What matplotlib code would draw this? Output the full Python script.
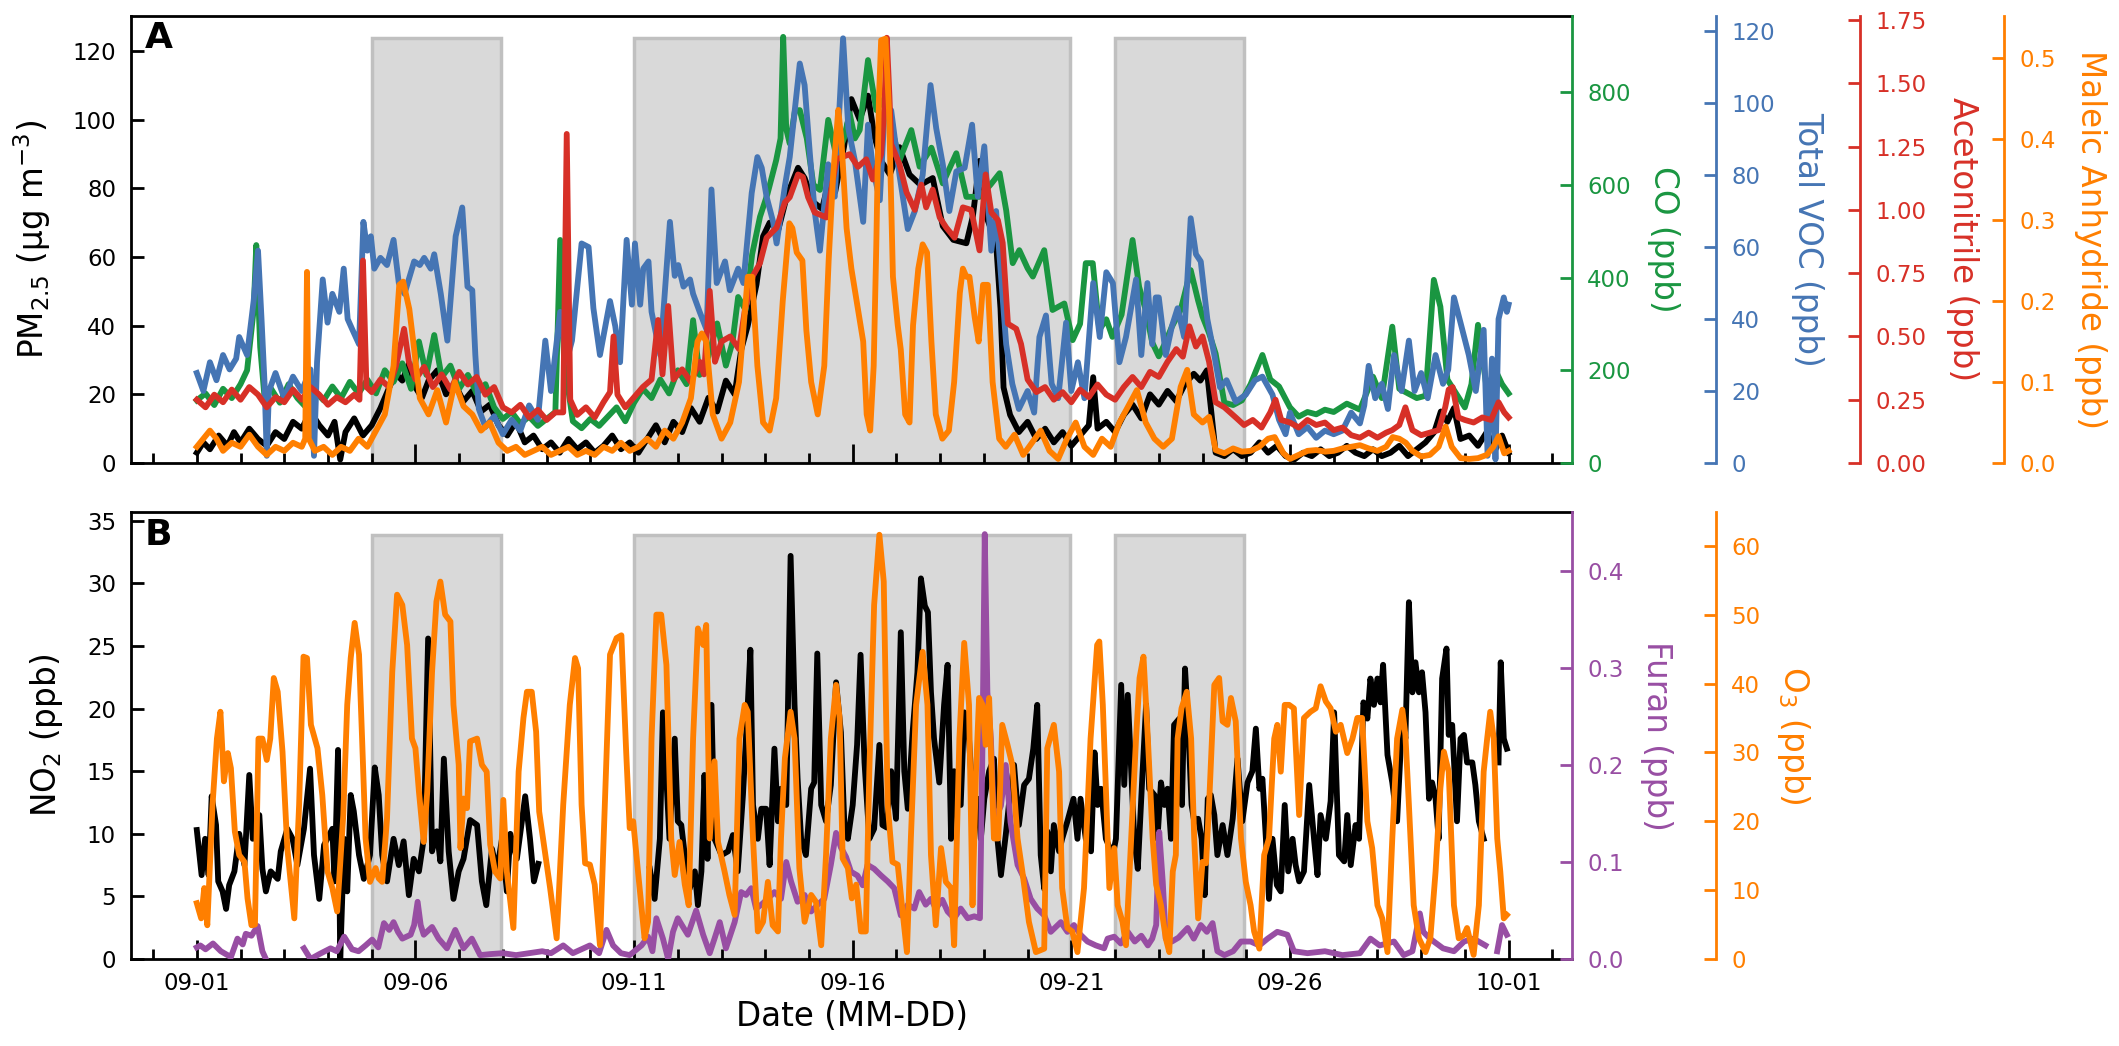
import numpy as np
import pandas as pd
import matplotlib
matplotlib.use("Agg")
import matplotlib.pyplot as plt
import matplotlib.dates as mdates
from matplotlib.ticker import MultipleLocator, FormatStrFormatter

nan = np.nan
# ---------------- data (time in days since 09-01 00:00) ----------------
pm_t = [0, 0.15, 0.3, 0.5, 0.7, 0.85, 1.0, 1.2, 1.4, 1.6, 1.8, 2.0, 2.2, 2.4, 2.6, 2.8, 3.0, 3.15, 3.28, 3.4, 3.6, 3.8, 4.0,
        4.2, 4.4, 4.55, 4.7, 4.85, 5.0, 5.15, 5.3, 5.5, 5.7, 5.9, 6.1, 6.3, 6.5, 6.7, 6.9, 7.1, 7.3, 7.5, 7.7, 7.9, 8.1,
        8.3, 8.5, 8.7, 8.9, 9.1, 9.3, 9.5, 9.7, 9.9, 10.1, 10.3, 10.5, 10.7, 10.9, 11.1, 11.3, 11.5, 11.7, 11.9, 12.1,
        12.3, 12.45, 12.6, 12.8, 12.95, 13.1, 13.3, 13.5, 13.75, 13.9, 14.1, 14.3, 14.45, 14.6, 14.8, 14.97, 15.16,
        15.35, 15.5, 15.65, 15.85, 16.07, 16.3, 16.55, 16.83, 17.06, 17.3, 17.6, 17.75, 17.9, 18.05, 18.28, 18.38,
        18.45, 18.6, 18.8, 19.0, 19.2, 19.4, 19.6, 19.8, 20.0, 20.2, 20.4, 20.5, 20.6, 20.8, 21.0, 21.2, 21.4, 21.6,
        21.8, 22.0, 22.2, 22.4, 22.6, 22.8, 22.95, 23.1, 23.2, 23.3, 23.5, 23.7, 23.9, 24.1, 24.3, 24.5, 24.7, 24.9,
        25.1, 25.3, 25.5, 25.7, 25.9, 26.1, 26.3, 26.5, 26.7, 26.9, 27.1, 27.3, 27.5, 27.7, 27.9, 28.1, 28.3, 28.45,
        28.6, 28.75, 28.9, 29.1, 29.3, 29.5, 29.7, 29.85, 30.0]
pm_v = [3, 6, 4, 8, 5, 9, 6, 10, 7, 5, 9, 7, 12, 10, 15, 11, 8, 12, 1, 9, 13, 8, 11,
        16, 22, 26, 24, 29, 22, 19, 24, 27, 20, 23, 18, 21, 15, 17, 11, 8, 12, 6, 8, 4, 6,
        3, 7, 4, 6, 3, 5, 8, 4, 6, 3, 7, 11, 6, 12, 9, 16, 12, 19, 15, 24,
        20, 33, 40, 52, 66, 70, 68, 78, 86, 83, 76, 74, 82, 79, 92, 106, 100,
        107, 95, 88, 84, 92, 84, 81, 83, 69, 65, 64, 72, 88, 72, 64, 45,
        22, 14, 9, 12, 7, 10, 6, 9, 5, 8, 11, 25, 10, 12, 9, 14, 17, 13,
        20, 17, 21, 18, 23, 26, 24, 27, 15, 3, 2, 4, 2, 3, 6, 3, 5, 2,
        1, 3, 2, 4, 2, 3, 5, 3, 2, 4, 2, 3, 5, 2, 4, 6, 9, 15,
        12, 16, 7, 8, 5, 9, 4, 8, 3]

co_t = [0, 0.2, 0.4, 0.6, 0.8, 1.0, 1.15, 1.3, 1.36, 1.45, 1.55, 1.7, 1.9, 2.1, 2.3, 2.5, 2.7, 2.9, 3.1, 3.3, 3.5, 3.7,
        3.9, 4.1, 4.3, 4.5, 4.7, 4.9, 5.08, 5.25, 5.43, 5.6, 5.8, 6.0, 6.2, 6.4, 6.6, 6.8, 7.0, 7.2, 7.4, 7.6, 7.8, 8.0,
        8.2, 8.31, 8.4, 8.6, 8.8, 9.0, 9.2, 9.4, 9.6, 9.8, 10.0, 10.2, 10.4, 10.6, 10.8, 11.0, 11.2, 11.35, 11.5, 11.7,
        11.9, 12.1, 12.25, 12.38, 12.55, 12.7, 12.88, 13.05, 13.25, 13.35, 13.41, 13.48, 13.56, 13.68, 13.79, 13.95,
        14.1, 14.25, 14.44, 14.63, 14.8, 14.93, 15.05, 15.16, 15.35, 15.54, 15.75, 15.9, 16.07, 16.34, 16.53, 16.8,
        17.06, 17.37, 17.6, 17.9, 18.15, 18.36, 18.51, 18.66, 18.81, 19.0, 19.12, 19.38, 19.57, 19.84, 20.03, 20.2,
        20.33, 20.49, 20.64, 20.8, 20.94, 21.15, 21.4, 21.55, 21.7, 21.85, 22.0, 22.15, 22.3, 22.5, 22.73, 22.9, 23.0,
        23.15, 23.3, 23.5, 23.7, 23.9, 24.1, 24.37, 24.55, 24.75, 25.0, 25.2, 25.4, 25.6, 25.8, 26.0, 26.3, 26.6, 26.9,
        27.1, 27.34, 27.5, 27.7, 27.9, 28.1, 28.29, 28.44, 28.6, 28.8, 29.0, 29.15, 29.3, 29.5, 29.7, 29.85, 30.0]
co_v = [135, 150, 125, 160, 140, 170, 200, 330, 470, 250, 140, 160, 130, 170, 140, 120, 155, 135, 165, 140, 175, 150,
        180, 150, 200, 175, 215, 160, 262, 190, 276, 185, 210, 160, 190, 150, 170, 120, 95, 110, 85, 100, 80, 95,
        110, 481, 220, 90, 75, 95, 80, 100, 120, 90, 130, 160, 140, 180, 150, 200, 170, 308, 190, 230,
        301, 210, 260, 358, 330, 450, 531, 580, 653, 700, 919, 720, 689, 760, 761, 700,
        600, 589, 740, 660, 700, 754, 700, 718, 869, 761, 790, 720, 653, 718, 639, 680,
        603, 668, 574, 574, 600, 625, 545, 431, 459, 420, 402, 459, 330, 344, 265, 300,
        431, 431, 287, 310, 272, 320, 481, 380, 330, 260, 230, 260, 294, 330, 416, 350, 316,
        280, 236, 130, 125, 135, 170, 233, 180, 165, 120, 100, 110, 105, 115, 110, 128, 115, 186,
        140, 294, 160, 150, 140, 145, 395, 337, 180, 150, 120, 170, 298, 160, 200, 170, 150]

voc_t = [0, 0.15, 0.3, 0.45, 0.6, 0.75, 0.9, 0.97, 1.15, 1.3, 1.4, 1.48, 1.55, 1.6, 1.65, 1.8, 2.0, 2.2, 2.4, 2.6, 2.68,
         2.75, 2.88, 2.99, 3.1, 3.26, 3.36, 3.45, 3.56, 3.71, 3.81, 3.9, 3.98, 4.06, 4.2, 4.35, 4.5, 4.62, 4.75, 4.97,
         5.1, 5.2, 5.35, 5.43, 5.58, 5.73, 5.92, 6.07, 6.19, 6.3, 6.37, 6.45, 6.6, 6.8, 7.0, 7.2, 7.4, 7.6, 7.8, 7.97,
         8.1, 8.31, 8.45, 8.58, 8.8, 8.96, 9.07, 9.22, 9.45, 9.57, 9.68, 9.83, 9.95, 10.02, 10.14, 10.21, 10.33, 10.4,
         10.6, 10.82, 10.93, 11.01, 11.13, 11.28, 11.35, 11.5, 11.66, 11.77, 11.89, 12.08, 12.19, 12.38, 12.5, 12.69,
         12.82, 12.92, 13.03, 13.18, 13.26, 13.45, 13.56, 13.79, 13.9, 14.02, 14.13, 14.25, 14.44, 14.59, 14.78, 14.9,
         15.05, 15.24, 15.35, 15.46, 15.62, 15.73, 15.88, 16.07, 16.26, 16.42, 16.6, 16.78, 16.91, 17.06, 17.21, 17.37,
         17.56, 17.73, 17.86, 18.01, 18.17, 18.28, 18.36, 18.51, 18.65, 18.8, 19.0, 19.15, 19.27, 19.42, 19.55, 19.7,
         19.88, 20.0, 20.15, 20.3, 20.5, 20.65, 20.8, 20.95, 21.1, 21.25, 21.48, 21.6, 21.74, 21.85, 21.93, 22.0,
         22.16, 22.3, 22.43, 22.58, 22.73, 22.85, 22.96, 23.11, 23.27, 23.4, 23.55, 23.76, 23.99, 24.2, 24.37, 24.6,
         24.75, 24.9, 25.0, 25.2, 25.4, 25.6, 25.8, 26.0, 26.2, 26.4, 26.6, 26.7, 26.8, 26.95, 27.1, 27.24, 27.38,
         27.55, 27.72, 27.85, 28.0, 28.15, 28.33, 28.5, 28.62, 28.75, 28.9, 29.09, 29.25, 29.43, 29.52, 29.62, 29.7,
         29.77, 29.89, 29.96, 30.0]
voc_v = [25, 20, 28, 23, 30, 26, 29, 35, 30, 45, 59, 40, 22, 2, 20, 25, 18, 24, 20, 26, 2,
         28, 51, 39, 47, 42, 54, 40, 37, 33, 67, 59, 63, 54, 57, 55, 62, 50, 47, 56,
         55, 57, 54, 58, 47, 34, 63, 71, 49, 48, 30, 15, 10, 13, 8, 12, 9, 16, 12, 34,
         20, 42, 28, 34, 61, 60, 43, 30, 45, 38, 28, 62, 44, 61, 44, 54, 56, 42,
         30, 67, 52, 55, 49, 51, 47, 42, 37, 76, 50, 56, 48, 54, 50, 75,
         85, 82, 74, 67, 61, 77, 85, 111, 105, 86, 70, 59, 83, 74, 118, 93,
         84, 67, 94, 82, 73, 98, 98, 80, 65, 70, 80, 105, 93, 83, 70, 81,
         82, 94, 74, 88, 59, 70, 57, 33, 22, 15, 20, 14, 35, 41, 22, 18,
         39, 20, 28, 18, 50, 35, 53, 50, 28, 35, 51, 30, 50, 33, 46, 46,
         30, 38, 43, 35, 68, 58, 56, 40, 30, 21, 23, 17, 19, 23, 24, 19,
         12, 8, 14, 8, 10, 7, 9, 8, 9, 14, 11, 16, 27, 18, 22, 15, 30,
         20, 34, 20, 25, 18, 30, 22, 26, 46, 39, 30, 20, 37, 2, 29, 1,
         40, 46, 42, 44]

acn_t = [0, 0.2, 0.4, 0.6, 0.8, 1.0, 1.2, 1.4, 1.6, 1.8, 2.0, 2.2, 2.4, 2.6, 2.8, 3.0, 3.2, 3.4, 3.6, 3.72, 3.8, 3.88,
         4.0, 4.2, 4.4, 4.55, 4.74, 4.85, 5.0, 5.2, 5.4, 5.6, 5.8, 6.0, 6.2, 6.4, 6.6, 6.8, 7.0, 7.2, 7.4, 7.6, 7.8,
         8.0, 8.2, 8.38, 8.46, 8.54, 8.7, 8.9, 9.1, 9.3, 9.45, 9.53, 9.62, 9.8, 10.0, 10.2, 10.4, 10.55, 10.65, 10.78,
         10.9, 11.1, 11.3, 11.5, 11.6, 11.73, 11.85, 12.0, 12.2, 12.4, 12.53, 12.72, 12.88, 13.03, 13.26, 13.45, 13.56,
         13.75, 13.86, 13.98, 14.13, 14.4, 14.63, 14.93, 15.12, 15.31, 15.46, 15.65, 15.72, 15.78, 15.84, 15.88,
         16.07, 16.23, 16.42, 16.57, 16.68, 16.83, 16.99, 17.14, 17.33, 17.52, 17.71, 17.9, 18.04, 18.17, 18.32,
         18.43, 18.55, 18.74, 18.85, 19.0, 19.2, 19.4, 19.6, 19.8, 20.0, 20.2, 20.4, 20.6, 20.8, 21.0, 21.2, 21.4,
         21.6, 21.8, 22.0, 22.2, 22.4, 22.55, 22.7, 22.85, 23.0, 23.15, 23.3, 23.5, 23.76, 23.95, 24.15, 24.35,
         24.55, 24.67, 24.8, 25.0, 25.2, 25.4, 25.6, 25.8, 26.0, 26.2, 26.4, 26.6, 26.8, 27.0, 27.2, 27.34, 27.5,
         27.64, 27.8, 28.0, 28.2, 28.4, 28.55, 28.63, 28.72, 28.85, 29.0, 29.2, 29.4, 29.6, 29.77, 29.9, 30.0]
acn_v = [0.25, 0.22, 0.27, 0.24, 0.29, 0.25, 0.30, 0.27, 0.22, 0.26, 0.24, 0.29, 0.25, 0.30, 0.27, 0.23, 0.26, 0.24,
         0.27, 0.25, 0.80, 0.30, 0.28, 0.33, 0.30, 0.38, 0.53, 0.40, 0.33, 0.38, 0.30, 0.35, 0.29, 0.36, 0.31, 0.34,
         0.27, 0.30, 0.22, 0.20, 0.23, 0.18, 0.21, 0.17, 0.20, 0.20, 1.30, 0.25, 0.19, 0.22, 0.18, 0.24, 0.28, 0.50,
         0.27, 0.22, 0.26, 0.30, 0.33, 0.565, 0.35, 0.62, 0.33, 0.37, 0.32, 0.40, 0.35, 0.68, 0.40, 0.48, 0.50, 0.45,
         0.60, 0.74, 0.79, 0.89, 0.93, 1.03, 1.05, 1.14, 1.13, 1.05, 0.99, 0.97, 1.20, 1.22, 1.17, 1.20, 1.12, 1.22,
         1.40, 1.68, 1.45, 1.26, 1.18, 1.07, 1.00, 1.10, 1.01, 1.08, 0.97, 0.93, 0.89, 1.01, 1.00, 0.84, 1.14, 0.99,
         0.96, 0.87, 0.55, 0.53, 0.47, 0.33, 0.28, 0.30, 0.25, 0.28, 0.24, 0.29, 0.26, 0.31, 0.27, 0.25, 0.30, 0.34,
         0.30, 0.36, 0.34, 0.40, 0.45, 0.42, 0.54, 0.46, 0.50, 0.40, 0.24, 0.22, 0.18, 0.15, 0.17, 0.14,
         0.20, 0.25, 0.17, 0.16, 0.14, 0.17, 0.15, 0.16, 0.13, 0.14, 0.11, 0.10, 0.12, 0.10, 0.12, 0.13, 0.15,
         0.22, 0.13, 0.11, 0.12, 0.13, 0.22, 0.29, 0.30, 0.18, 0.17, 0.16, 0.18, 0.17, 0.24, 0.20, 0.18]

ma_t = [0, 0.15, 0.3, 0.45, 0.6, 0.8, 1.0, 1.2, 1.4, 1.6, 1.8, 2.0, 2.2, 2.4, 2.48, 2.52, 2.56, 2.7, 2.9, 3.1, 3.3, 3.5,
        3.7, 3.9, 4.1, 4.3, 4.5, 4.63, 4.72, 4.86, 4.95, 5.1, 5.3, 5.5, 5.7, 5.9, 6.1, 6.3, 6.5, 6.7, 6.9, 7.1, 7.3,
        7.5, 7.7, 7.9, 8.1, 8.3, 8.5, 8.7, 8.9, 9.1, 9.3, 9.5, 9.7, 9.9, 10.1, 10.3, 10.5, 10.7, 10.9, 11.1, 11.3,
        11.45, 11.55, 11.65, 11.8, 12.0, 12.2, 12.4, 12.6, 12.7, 12.82, 12.95, 13.1, 13.25, 13.4, 13.55, 13.62,
        13.72, 13.85, 13.94, 14.05, 14.2, 14.35, 14.45, 14.55, 14.67, 14.74, 14.86, 14.97, 15.12, 15.24, 15.32,
        15.4, 15.48, 15.54, 15.6, 15.65, 15.75, 15.83, 15.92, 16.03, 16.1, 16.2, 16.3, 16.38, 16.5, 16.6, 16.7,
        16.8, 16.9, 17.05, 17.2, 17.32, 17.45, 17.52, 17.6, 17.67, 17.79, 17.88, 17.98, 18.09, 18.2, 18.35, 18.5,
        18.7, 18.9, 19.1, 19.3, 19.5, 19.7, 19.9, 20.1, 20.3, 20.5, 20.7, 20.9, 21.1, 21.3, 21.5, 21.7, 21.9, 22.1,
        22.3, 22.5, 22.65, 22.8, 23.0, 23.15, 23.3, 23.5, 23.7, 23.9, 24.1, 24.3, 24.5, 24.65, 24.85, 25.0, 25.2,
        25.4, 25.6, 25.8, 26.0, 26.2, 26.4, 26.6, 26.8, 27.0, 27.2, 27.35, 27.5, 27.65, 27.8, 28.0, 28.2, 28.4,
        28.56, 28.7, 28.9, 29.1, 29.3, 29.5, 29.65, 29.77, 29.9, 30.0]
ma_v = [0.02, 0.03, 0.04, 0.03, 0.015, 0.025, 0.02, 0.035, 0.02, 0.01, 0.02, 0.015, 0.025, 0.02, 0.03, 0.236, 0.03,
        0.015, 0.02, 0.01, 0.02, 0.015, 0.03, 0.02, 0.04, 0.06, 0.12, 0.22, 0.224, 0.19, 0.15, 0.08, 0.06, 0.09, 0.05,
        0.10, 0.07, 0.06, 0.04, 0.05, 0.025, 0.015, 0.02, 0.01, 0.015, 0.02, 0.01, 0.015, 0.02, 0.01, 0.015, 0.01,
        0.02, 0.015, 0.025, 0.015, 0.02, 0.03, 0.02, 0.04, 0.03, 0.05, 0.08, 0.15, 0.16, 0.15, 0.06, 0.03, 0.05,
        0.10, 0.23, 0.23, 0.12, 0.05, 0.04, 0.08, 0.20, 0.296, 0.29, 0.26, 0.25, 0.164, 0.10, 0.06, 0.12, 0.25,
        0.353, 0.436, 0.40, 0.29, 0.24, 0.19, 0.15, 0.06, 0.04, 0.12, 0.27, 0.45, 0.522, 0.524, 0.436, 0.23, 0.17,
        0.14, 0.06, 0.05, 0.17, 0.24, 0.27, 0.26, 0.15, 0.06, 0.03, 0.04, 0.10, 0.21, 0.24, 0.23, 0.23, 0.18, 0.15,
        0.22, 0.22, 0.10, 0.03, 0.02, 0.035, 0.01, 0.025, 0.04, 0.015, 0.005, 0.03, 0.05, 0.02, 0.01, 0.03, 0.02,
        0.05, 0.07, 0.09, 0.05, 0.03, 0.02, 0.03, 0.094, 0.115, 0.06, 0.05, 0.057, 0.016, 0.012, 0.018, 0.014,
        0.015, 0.02, 0.03, 0.032, 0.012, 0.005, 0.01, 0.015, 0.016, 0.014, 0.015, 0.018, 0.02, 0.022, 0.018, 0.015,
        0.02, 0.032, 0.03, 0.025, 0.015, 0.008, 0.01, 0.02, 0.045, 0.02, 0.006, 0.005, 0.006, 0.01, 0.02, 0.033,
        0.012, 0.015]

no2_t = [0, 0.06, 0.11, 0.19, 0.27, 0.34, 0.44, 0.49, 0.59, 0.67, 0.74, 0.86, 0.97, 1.09, 1.2, 1.28, 1.43, 1.5, 1.58,
         1.69, 1.85, 1.92, 2.07, 2.19, 2.3, 2.45, 2.59, 2.68, 2.8, 2.91, 3.1, 3.15, 3.23, 3.28, 3.37, 3.44, 3.52, 3.59,
         3.71, 3.82, 3.96, 4.07, 4.16, 4.24, 4.35, 4.5, 4.62, 4.73, 4.85, 4.96, 5.08, 5.19, 5.29, 5.38, 5.49, 5.57,
         5.65, 5.76, 5.87, 5.99, 6.1, 6.25, 6.41, 6.52, 6.62, 6.75, 6.86, 6.98, 7.09, 7.17, 7.32, 7.51, 7.62, 7.71,
         7.81, 9.0, 10.36, 10.47, 10.59, 10.66, 10.74, 10.81, 10.93, 11.0, 11.08, 11.16, 11.27, 11.39, 11.46, 11.54,
         11.61, 11.68, 11.77, 11.84, 12.0, 12.15, 12.26, 12.37, 12.49, 12.6, 12.66, 12.72, 12.83, 12.91, 13.02, 13.1,
         13.21, 13.29, 13.36, 13.48, 13.58, 13.67, 13.74, 13.82, 13.93, 14.05, 14.12, 14.19, 14.28, 14.39, 14.5,
         14.62, 14.73, 14.81, 14.89, 15.0, 15.1, 15.18, 15.27, 15.38, 15.49, 15.61, 15.68, 15.78, 15.88, 15.99, 16.1,
         16.18, 16.26, 16.37, 16.48, 16.56, 16.65, 16.72, 16.79, 16.86, 16.98, 17.09, 17.17, 17.25, 17.32, 17.47,
         17.55, 17.66, 17.78, 17.86, 17.93, 18.01, 18.12, 18.23, 18.31, 18.39, 18.5, 18.61, 18.69, 18.8, 18.92, 19.03,
         19.13, 19.22, 19.3, 19.38, 19.45, 19.53, 19.6, 19.72, 19.79, 19.91, 20.05, 20.14, 20.21, 20.33, 20.45, 20.53,
         20.6, 20.68, 20.79, 20.95, 21.02, 21.14, 21.21, 21.29, 21.37, 21.44, 21.52, 21.63, 21.71, 21.78, 21.9, 21.97,
         22.05, 22.13, 22.2, 22.28, 22.35, 22.47, 22.53, 22.6, 22.67, 22.75, 22.81, 22.9, 22.98, 23.05, 23.12, 23.19,
         23.27, 23.34, 23.46, 23.57, 23.69, 23.8, 23.91, 24.03, 24.14, 24.22, 24.3, 24.37, 24.45, 24.52, 24.6, 24.7,
         24.79, 24.88, 24.96, 25.06, 25.13, 25.21, 25.32, 25.44, 25.55, 25.63, 25.7, 25.82, 25.93, 26.01, 26.12,
         26.24, 26.31, 26.39, 26.5, 26.58, 26.68, 26.77, 26.84, 26.92, 27.0, 27.07, 27.13, 27.23, 27.34, 27.45,
         27.57, 27.64, 27.72, 27.8, 27.87, 27.95, 28.02, 28.1, 28.18, 28.25, 28.33, 28.4, 28.48, 28.58, 28.63, 28.71,
         28.82, 28.9, 28.98, 29.05, 29.17, 29.24, 29.32, 29.43, 29.6, 29.77, 29.82, 29.89, 29.96]
no2_v = [10.3, 8.3, 6.7, 9.6, 6.7, 13, 10.7, 6.2, 5.4, 4, 5.9, 7, 10, 7.5, 14.7, 9.6, 11.5, 7.2, 5.4,
         7, 6.4, 8.6, 10.4, 9.6, 7.5, 10.4, 15.2, 8.3, 4.8, 9.1, 10.4, 6.2, 16.7, 0, 9.6, 5.4, 13.1, 11.8,
         8.3, 6.4, 8.3, 15.3, 13.1, 8.3, 6.2, 9.6, 7.5, 9.4, 5.1, 8, 7, 9.6, 25.6, 8.6, 10.2, 7.8,
         16, 8.6, 4.8, 7, 8, 11.1, 10.7, 6.2, 4.3, 8.8, 7, 9.6, 5.4, 10, 8, 13, 9.6, 6.2,
         7.6, nan, 7.2, 4.8, 9.6, 19.7, 14.4, 9.6, 17.6, 11, 10.7, 8.3, 5.6, 7, 4.3, 7,
         14.7, 8, 20.3, 9.6, 8.3, 8.6, 9.9, 7, 13.1, 20.3, 24.7, 12.3, 9.6, 12, 12, 7.5,
         16.8, 11, 13.6, 12.3, 32.2, 20.3, 14.4, 9.6, 8.3, 13.6, 14.1, 24.4, 12.3, 11, 13.9,
         22.1, 18.1, 10.7, 9.6, 12.3, 17.1, 24.3, 15.7, 9.6, 10.4, 17.1, 10.7, 10.5, 15, 11.2, 26.1,
         15, 12, 18.1, 22.9, 30.4, 28.2, 27.7, 21.3, 17.6, 14.1, 20.3, 23.5, 9.6, 15, 12.3,
         19.7, 17.6, 10.7, 12.8, 9.6, 12.8, 15, 16, 9.6, 6.7, 9.9, 13.6, 15.5, 10.7, 13.9, 14.4,
         16.8, 20.3, 8.3, 5.6, 10.2, 7, 10.7, 8.6, 9.6, 11, 12.8, 9.6, 12.8, 9.6, 8.6, 16.5,
         12.3, 13.6, 9.6, 8.3, 9.6, 21.9, 13.9, 21.1, 15, 9.6, 7.2, 15, 20.3, 13.6, 13.1, 9.6,
         14.1, 12.3, 13.6, 9.6, 18.7, 19.2, 12.3, 23.2, 18.9, 12.3, 11, 11.2, 9.6, 5.1, 12.8, 13.1,
         11.5, 8.3, 10.7, 8.3, 11.2, 16, 11, 14.1, 15, 18.4, 13.6, 14.4, 9.6, 4.8, 9.6, 5.9,
         5.4, 12.3, 7, 9.6, 7.5, 6.2, 7, 13.9, 9.6, 6.7, 11.5, 9.6, 12.6, 19.7, 8.3,
         7.8, 11.5, 7.5, 10.7, 9.6, 20.5, 19.2, 22.4, 20.3, 22.4, 20.5, 23.5, 16.3, 14.1, 11,
         19.5, 17.6, 28.5, 21.3, 23.7, 21.3, 22.9, 19.7, 12.8, 14.1, 12.8, 9.6, 22.4, 24.8, 17.9, 18.7,
         11, 17.6, 17.9, 15.7, 15.7, 13.9, 11, 9.6, nan, 15.7, 23.7, 17.6, 16.8]

o3_t = [0, 0.1, 0.17, 0.24, 0.36, 0.46, 0.54, 0.62, 0.71, 0.78, 0.87, 0.97, 1.09, 1.16, 1.25, 1.33, 1.41, 1.5, 1.6, 1.68,
        1.76, 1.85, 1.96, 2.07, 2.23, 2.34, 2.44, 2.52, 2.61, 2.76, 2.87, 2.99, 3.1, 3.21, 3.35, 3.44, 3.52, 3.61, 3.71,
        3.78, 3.86, 3.96, 4.09, 4.16, 4.24, 4.35, 4.47, 4.58, 4.7, 4.81, 4.92, 5.0, 5.08, 5.19, 5.27, 5.38, 5.48, 5.57,
        5.68, 5.8, 5.87, 5.99, 6.03, 6.1, 6.18, 6.25, 6.41, 6.52, 6.63, 6.71, 6.82, 6.94, 7.01, 7.09, 7.24, 7.36, 7.47,
        7.55, 7.66, 7.76, 7.83, 7.96, 8.08, 8.23, 8.38, 8.53, 8.65, 8.72, 8.8, 8.88, 8.99, 9.1, 9.22, 9.33, 9.45, 9.6,
        9.71, 9.82, 9.9, 9.98, 10.09, 10.24, 10.32, 10.4, 10.51, 10.62, 10.74, 10.85, 10.93, 11.04, 11.16, 11.25,
        11.35, 11.46, 11.58, 11.65, 11.73, 11.84, 11.92, 12.07, 12.18, 12.3, 12.41, 12.53, 12.6, 12.72, 12.83, 12.95,
        13.06, 13.17, 13.29, 13.36, 13.45, 13.58, 13.67, 13.78, 13.9, 14.05, 14.16, 14.28, 14.39, 14.5, 14.62, 14.7,
        14.77, 14.89, 14.98, 15.08, 15.19, 15.3, 15.38, 15.49, 15.61, 15.71, 15.8, 15.91, 16.03, 16.14, 16.24, 16.33,
        16.45, 16.6, 16.71, 16.79, 16.9, 17.02, 17.13, 17.25, 17.32, 17.44, 17.55, 17.66, 17.74, 17.82, 17.89, 17.97,
        18.04, 18.12, 18.23, 18.33, 18.42, 18.54, 18.65, 18.77, 18.88, 19.03, 19.19, 19.38, 19.45, 19.6, 19.72, 19.79,
        19.91, 20.02, 20.14, 20.29, 20.44, 20.59, 20.64, 20.72, 20.79, 20.87, 20.98, 21.06, 21.17, 21.25, 21.37, 21.48,
        21.56, 21.65, 21.75, 21.86, 21.94, 22.05, 22.16, 22.24, 22.32, 22.39, 22.43, 22.52, 22.64, 22.74, 22.81, 22.9,
        23.0, 23.08, 23.15, 23.27, 23.38, 23.46, 23.57, 23.65, 23.76, 23.88, 23.99, 24.1, 24.18, 24.3, 24.41, 24.52,
        24.64, 24.71, 24.79, 24.88, 24.98, 25.09, 25.21, 25.32, 25.47, 25.59, 25.7, 25.82, 25.93, 26.05, 26.16, 26.31,
        26.43, 26.54, 26.65, 26.77, 26.88, 27.0, 27.11, 27.23, 27.34, 27.45, 27.57, 27.64, 27.72, 27.83, 27.95, 28.1,
        28.21, 28.33, 28.44, 28.52, 28.63, 28.75, 28.86, 28.98, 29.05, 29.2, 29.32, 29.43, 29.51, 29.58, 29.66, 29.74,
        29.81, 29.89, 29.96]
o3_v = [8.1, 5.9, 10.3, 4.9, 22.4, 32, 35.9, 25.8, 29.9, 27.7, 18.5, 15.1, 14.1, 8.8, 4.9, 5, 32, 32, 28.9, 32,
        40.8, 38.8, 30.1, 16.1, 5.9, 22.4, 43.9, 43.7, 34, 30.6, 23.8, 12.7, 10.3, 6.9, 20.9, 36.9, 43.7, 48.8, 44.2,
        32, 17.5, 11.2, 13.2, 11.7, 11.2, 20.4, 41.7, 52.9, 51.4, 45.6, 32, 30.6, 24.3, 17, 24.3, 41.7, 51.9, 54.8,
        50, 49, 36.9, 28.2, 16.1, 23.3, 21.9, 31.6, 32, 28.2, 27.2, 16.6, 12.7, 11.7, 23.1, 12.7, 4.5, 27.2, 35,
        38.8, 38.8, 33, 21.4, 15.6, 10.3, 3, 22.4, 36.9, 43.7, 42.2, 22.4, 13.9, 13.7, 10.8, 2, 22.4, 44.2, 46.6,
        47, 30, 19, 20, 12.7, 3, 5.4, 32, 50, 50, 42.7, 17.5, 12.2, 17, 10.8, 7.8,
        32, 48, 45.6, 48.5, 17.5, 28.7, 17, 12.7, 9.3, 6.4, 32, 36.9, 35.9, 17.5, 4, 5.4,
        11.2, 4.9, 4, 17.5, 29.2, 35.9, 32, 13.2, 5.4, 9.3, 8.3, 2, 15.1, 32, 39.8, 35,
        14.6, 13.2, 8.8, 10.8, 4, 4, 27.2, 51.4, 61.6, 54.8, 22.4, 14.1, 13.7, 6.9, 1, 17.5,
        36.9, 44.6, 36.9, 15.1, 4.9, 16.1, 11.2, 10.3, 2, 32, 45.9, 36.9, 7.8, 27.2, 37.9, 36.9,
        31.1, 37.9, 17.5, 17.5, 34, 31.1, 28.2, 17.5, 12.7, 5.4, 1, 1.5, 30.6, 34, 27.2, 10.3,
        4.5, 4, 1, 10.3, 32, 45.6, 46.1, 36.9, 24.8, 10.3, 16.1, 7.8, 5.4, 2, 17.5, 32,
        40.8, 43.9, 32, 17.5, 10.8, 7.8, 3, 1, 12.7, 15.1, 32, 36.4, 38.8, 32, 17.5, 5.9,
        14.1, 13.9, 22.4, 39.8, 40.8, 34.5, 34, 37.9, 34.5, 17.5, 11.2, 7.8, 4, 1.5, 15.1, 17.5,
        32, 34, 27.2, 36.9, 36.9, 36.4, 20.9, 35, 35.9, 36.4, 39.6, 37.4, 36.4, 33, 34, 29.9,
        32, 35, 35, 20, 16.1, 7.8, 5.9, 1, 17.5, 32, 36.2, 32.5, 22.4, 7.8, 3, 1,
        3, 12.7, 24.8, 30.1, 27.2, 7.8, 3, 3.5, 4.5, 0.6, 7.8, 27.2, 32, 35.9, 32, 17.5,
        12.7, 5.9, 6.4]

furan_t = [0, 0.08, 0.2, 0.37, 0.55, 0.78, 0.93, 1.05, 1.12, 1.25, 1.39, 1.5, 1.58, 2.0, 2.45, 2.6, 2.8, 3.06, 3.2,
           3.37, 3.55, 3.7, 3.86, 4.01, 4.15, 4.28, 4.4, 4.5, 4.6, 4.7, 4.89, 4.97, 5.05, 5.12, 5.19, 5.38, 5.53, 5.72,
           5.91, 6.1, 6.29, 6.48, 6.7, 7.0, 7.3, 7.6, 7.9, 8.1, 8.38, 8.6, 8.99, 9.2, 9.37, 9.52, 9.7, 9.9, 10.17,
           10.32, 10.42, 10.51, 10.66, 10.78, 10.89, 11.0, 11.12, 11.23, 11.42, 11.58, 11.73, 11.84, 11.96, 12.1, 12.3,
           12.45, 12.56, 12.68, 12.79, 12.91, 13.06, 13.21, 13.36, 13.48, 13.59, 13.74, 13.9, 14.05, 14.2, 14.35, 14.5,
           14.62, 14.73, 14.85, 14.96, 15.11, 15.23, 15.34, 15.49, 15.65, 15.8, 15.95, 16.1, 16.26, 16.41, 16.52,
           16.67, 16.79, 16.9, 17.05, 17.17, 17.32, 17.47, 17.63, 17.78, 17.91, 17.97, 18.02, 18.08, 18.16, 18.23,
           18.39, 18.5, 18.61, 18.77, 18.92, 19.07, 19.22, 19.38, 19.53, 19.76, 19.91, 20.06, 20.21, 20.37, 20.56,
           20.75, 20.83, 20.98, 21.13, 21.29, 21.45, 21.6, 21.75, 21.85, 21.94, 22.01, 22.09, 22.16, 22.3, 22.45,
           22.66, 22.8, 22.96, 23.1, 23.23, 23.34, 23.5, 23.7, 23.88, 24.1, 24.3, 24.49, 24.71, 24.94, 25.09, 25.4,
           25.8, 26.2, 26.6, 26.84, 27.05, 27.38, 27.6, 27.8, 27.97, 28.05, 28.2, 28.5, 28.75, 28.98, 29.2, 29.47,
           29.6, 29.74, 29.85, 29.96]
furan_v = [0.012, 0.014, 0.01, 0.016, 0.008, 0.002, 0.021, 0.015, 0.026, 0.024, 0.034, 0.008, 0.0, nan, 0.011, 0.0,
           0.005, 0.011, 0.008, 0.023, 0.01, 0.008, 0.014, 0.02, 0.012, 0.037, 0.03, 0.038, 0.028, 0.021, 0.025,
           0.035, 0.059, 0.035, 0.025, 0.033, 0.021, 0.011, 0.03, 0.011, 0.021, 0.004, 0.005, 0.006, 0.004, 0.006,
           0.008, 0.006, 0.014, 0.006, 0.014, 0.006, 0.03, 0.014, 0.006, 0.004, 0.014, 0.023, 0.008, 0.042, 0.021,
           0.0, 0.028, 0.042, 0.033, 0.025, 0.05, 0.025, 0.006, 0.021, 0.038, 0.011, 0.038, 0.069, 0.066, 0.073,
           0.052, 0.056, 0.062, 0.069, 0.062, 0.1, 0.08, 0.059, 0.066, 0.049, 0.056, 0.062, 0.097, 0.13, 0.115,
           0.105, 0.09, 0.086, 0.076, 0.097, 0.093, 0.086, 0.08, 0.073, 0.045, 0.056, 0.052, 0.069, 0.056, 0.062,
           0.052, 0.061, 0.049, 0.042, 0.052, 0.042, 0.044, 0.042, 0.227, 0.438, 0.275, 0.227, 0.141, 0.158, 0.2,
           0.141, 0.097, 0.083, 0.062, 0.052, 0.045, 0.028, 0.038, 0.028, 0.035, 0.025, 0.018, 0.014, 0.011, 0.021,
           0.023, 0.016, 0.028, 0.018, 0.024, 0.014, 0.021, 0.035, 0.131, 0.08, 0.021, 0.018, 0.022, 0.032, 0.021,
           0.035, 0.028, 0.037, 0.008, 0.004, 0.008, 0.018, 0.018, 0.014, 0.021, 0.028, 0.025, 0.008, 0.006, 0.008,
           0.004, 0.006, 0.021, 0.014, 0.018, 0.004, 0.008, 0.047, 0.028, 0.021, 0.011, 0.008, 0.018, 0.021, 0.014,
           nan, 0.008, 0.035, 0.025]

shade_start = ["2020-09-05", "2020-09-11", "2020-09-22"]
shade_end = ["2020-09-07 23:00", "2020-09-20 23:00", "2020-09-24 23:00"]
base = pd.Timestamp("2020-09-01")

C_GREEN, C_BLUE, C_RED, C_ORANGE, C_PURPLE = "#1a9641", "#4575b4", "#d73027", "#ff7f00", "#984ea3"


def dates(t):
    return base + pd.to_timedelta(np.asarray(t, dtype=float), unit="D")


# ---------------- figure ----------------
W, H = 2119, 1046
fig = plt.figure(figsize=(W / 100, H / 100), dpi=100)
L = 131.3 / W
AW = (1572 - 131.3) / W
axA = fig.add_axes([L, 1 - 463 / H, AW, (463 - 16) / H])
axB = fig.add_axes([L, 1 - 959 / H, AW, (959 - 512.3) / H])

LW = 4.2
TS = 16.5
LS = 23.5
xmin = base - pd.Timedelta(days=1.498)
xmax = base + pd.Timedelta(days=31.45)

for ax in (axA, axB):
    for s, sp in ax.spines.items():
        sp.set_linewidth(2)
    ax.spines["right"].set_visible(False)
    for s0, s1 in zip(shade_start, shade_end):
        ax.axvspan(pd.Timestamp(s0), pd.Timestamp(s1), ymin=0, ymax=0.95, facecolor="#d9d9d9",
                   edgecolor="#c0c0c0", linewidth=2.5, zorder=0)
    ax.set_xlim(xmin, xmax)
    ax.xaxis.set_major_locator(mdates.DayLocator(bymonthday=[1, 6, 11, 16, 21, 26]))
    ax.xaxis.set_minor_locator(mdates.DayLocator())
    ax.xaxis.set_major_formatter(mdates.DateFormatter("%m-%d"))
    ax.tick_params(axis="x", which="major", direction="in", length=14, width=2, labelsize=TS, pad=9)
    ax.tick_params(axis="x", which="minor", direction="in", length=7, width=2)
    ax.tick_params(axis="y", direction="in", length=9, width=2, labelsize=TS, pad=11)

axA.tick_params(axis="x", labelbottom=False)


def twin(ax, pos, color):
    tw = ax.twinx()
    tw.spines["right"].set_position(("axes", pos))
    tw.spines["right"].set_color(color)
    tw.spines["right"].set_linewidth(2)
    for s in ("left", "top", "bottom"):
        tw.spines[s].set_visible(False)
    tw.tick_params(axis="y", colors=color, direction="in", length=9, width=2, labelsize=TS, pad=11)
    return tw


# ---- panel A ----
axA.plot(dates(pm_t), pm_v, color="black", lw=LW)
axA.set_ylim(0, 130.2)
axA.yaxis.set_major_locator(MultipleLocator(20))
axA.set_ylabel("PM$_{2.5}$ (μg m$^{-3}$)", fontsize=LS, va="center", ha="center")
axA.yaxis.set_label_coords(-0.069, 0.5)

tCO = twin(axA, 1.0, C_GREEN)
tCO.plot(dates(co_t), co_v, color=C_GREEN, lw=LW)
tCO.set_ylim(0, 964)
tCO.yaxis.set_major_locator(MultipleLocator(200))
tCO.set_ylabel("CO (ppb)", color=C_GREEN, fontsize=LS, rotation=270, va="center", ha="center")
tCO.yaxis.set_label_coords(1.0632, 0.5)

tVOC = twin(axA, 1.1, C_BLUE)
tVOC.plot(dates(voc_t), voc_v, color=C_BLUE, lw=LW)
tVOC.set_ylim(0, 124.2)
tVOC.yaxis.set_major_locator(MultipleLocator(20))
tVOC.set_ylabel("Total VOC (ppb)", color=C_BLUE, fontsize=LS, rotation=270, va="center", ha="center")
tVOC.yaxis.set_label_coords(1.1637, 0.5)

tACN = twin(axA, 1.2, C_RED)
tACN.plot(dates(acn_t), acn_v, color=C_RED, lw=LW)
tACN.set_ylim(0, 1.766)
tACN.yaxis.set_major_locator(MultipleLocator(0.25))
tACN.yaxis.set_major_formatter(FormatStrFormatter("%.2f"))
tACN.set_ylabel("Acetonitrile (ppb)", color=C_RED, fontsize=LS, rotation=270, va="center", ha="center")
tACN.yaxis.set_label_coords(1.2713, 0.5)

tMA = twin(axA, 1.3, C_ORANGE)
tMA.plot(dates(ma_t), ma_v, color=C_ORANGE, lw=LW)
tMA.set_ylim(0, 0.552)
tMA.yaxis.set_major_locator(MultipleLocator(0.1))
tMA.yaxis.set_major_formatter(FormatStrFormatter("%.1f"))
tMA.set_ylabel("Maleic Anhydride (ppb)", color=C_ORANGE, fontsize=LS, rotation=270, va="center", ha="center")
tMA.yaxis.set_label_coords(1.3602, 0.5)

axA.text(0.0095, 0.988, "A", transform=axA.transAxes, fontsize=26, fontweight="bold", ha="left", va="top")

# ---- panel B ----
axB.plot(dates(no2_t), no2_v, color="black", lw=LW)
axB.set_ylim(0, 35.68)
axB.yaxis.set_major_locator(MultipleLocator(5))
axB.set_ylabel("NO$_2$ (ppb)", fontsize=LS, va="center", ha="center")
axB.yaxis.set_label_coords(-0.059, 0.5)
axB.set_xlabel("Date (MM-DD)", fontsize=LS)

tF = twin(axB, 1.0, C_PURPLE)
tF.plot(dates(furan_t), furan_v, color=C_PURPLE, lw=LW)
tF.set_ylim(0, 0.4605)
tF.yaxis.set_major_locator(MultipleLocator(0.1))
tF.yaxis.set_major_formatter(FormatStrFormatter("%.1f"))
tF.set_ylabel("Furan (ppb)", color=C_PURPLE, fontsize=LS, rotation=270, va="center", ha="center")
tF.yaxis.set_label_coords(1.0585, 0.5)

tO3 = twin(axB, 1.1, C_ORANGE)
tO3.plot(dates(o3_t), o3_v, color=C_ORANGE, lw=LW)
tO3.set_ylim(0, 64.86)
tO3.yaxis.set_major_locator(MultipleLocator(10))
tO3.set_ylabel("O$_3$ (ppb)", color=C_ORANGE, fontsize=LS, rotation=270, va="center", ha="center")
tO3.yaxis.set_label_coords(1.1536, 0.5)

axB.text(0.0095, 0.988, "B", transform=axB.transAxes, fontsize=26, fontweight="bold", ha="left", va="top")

fig.savefig("out.png", dpi=100)
